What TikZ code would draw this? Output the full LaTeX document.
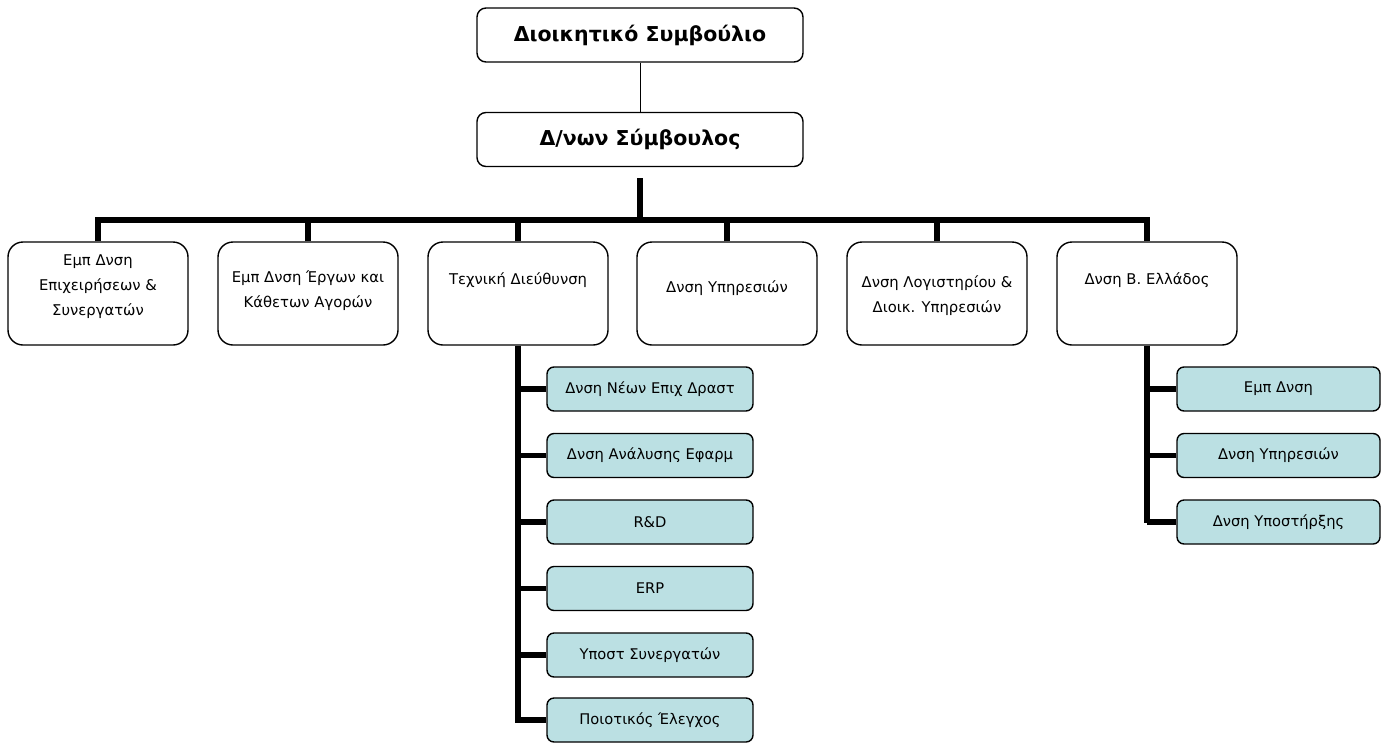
\documentclass[tikz,border=0pt]{standalone}
\usepackage{fontspec}
\setmainfont{DejaVu Sans}
\usetikzlibrary{positioning}
\definecolor{subfill}{RGB}{187,224,227}
\tikzset{
  topbox/.style={draw, line width=1.4pt, rounded corners=9pt, minimum width=326pt, minimum height=54pt, inner sep=0pt, font=\fontsize{20.5}{24}\selectfont\bfseries},
  deptbox/.style={draw, line width=1.4pt, rounded corners=15pt, minimum width=180pt, minimum height=103pt, inner sep=0pt},
  depttext/.style={align=center, inner sep=0pt, font=\fontsize{14.8}{25}\selectfont},
  subbox/.style={draw, fill=subfill, line width=1.4pt, rounded corners=7pt, minimum width=206pt, minimum height=44pt, inner sep=0pt, font=\fontsize{14.7}{16}\selectfont},
  thin/.style={line width=1pt},
  thick/.style={line width=5.5pt},
}
\begin{document}
\begin{tikzpicture}[x=1pt,y=-1pt]
\useasboundingbox (0,0) rectangle (1388,742);
\node[topbox] (board) at (640,35) {Διοικητικό Συμβούλιο};
\node[topbox] (ceo) at (640,139.5) {Δ/νων Σύμβουλος};
\draw[thin] (board.south) -- (ceo.south |- ceo.north);
\coordinate (ceoout) at (640,178);
\coordinate (bus) at (640,220);

\foreach \n/\x in {d1/98,d2/308,d3/518,d4/727,d5/937,d6/1147}{
  \node[deptbox] (\n) at (\x,293.5) {};
}
\node[depttext] (t1) at (98,287) {Εμπ Δνση\\Επιχειρήσεων \&\\Συνεργατών};
\node[depttext] (t2) at (308,291) {Εμπ Δνση Έργων και\\Κάθετων Αγορών};
\node[depttext] (t3) at (518,280) {Τεχνική Διεύθυνση};
\node[depttext] (t4) at (727,288) {Δνση Υπηρεσιών};
\node[depttext] (t5) at (937,296) {Δνση Λογιστηρίου \&\\Διοικ. Υπηρεσιών};
\node[depttext] (t6) at (1147,280) {Δνση Β. Ελλάδος};

\draw[thick] (ceoout) -- (bus);
\draw[thick] (d1.north) -- (d1.north |- bus) -- (d6.north |- bus) -- (d6.north);
\foreach \n in {d2,d3,d4,d5}{
  \draw[thick] (\n.north) -- (\n.north |- bus);
}

\foreach \n/\y/\t in {s1/389/Δνση Νέων Επιχ Δραστ, s2/455.5/Δνση Ανάλυσης Εφαρμ, s3/522/R\&D, s4/588.5/ERP, s5/655/Υποστ Συνεργατών, s6/720/Ποιοτικός Έλεγχος}{
  \node[subbox] (\n) at (650,\y) {\t};
}
\foreach \n/\y/\t in {r1/389/Εμπ Δνση, r2/455.5/Δνση Υπηρεσιών, r3/522/Δνση Υποστήρξης}{
  \node[subbox, minimum width=203pt] (\n) at (1278.5,\y) {\t};
}
\coordinate (techend) at (518,723);
\coordinate (northend) at (1147,523);
\draw[thick] (d3.south) -- (techend);
\draw[thick] (d6.south) -- (northend);
\foreach \n in {s1,s2,s3,s4,s5,s6}{
  \draw[thick] (\n.west) -- (\n.west -| d3.south);
}
\foreach \n in {r1,r2,r3}{
  \draw[thick] (\n.west) -- (\n.west -| d6.south);
}
\end{tikzpicture}
\end{document}
